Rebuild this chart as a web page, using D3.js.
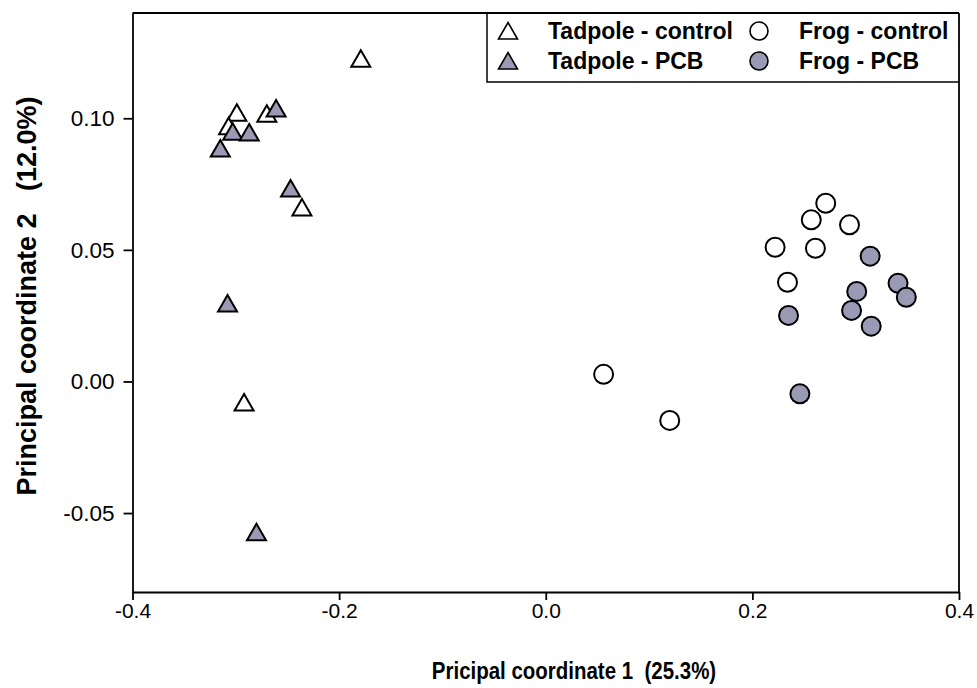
<!DOCTYPE html>
<html>
<head>
<meta charset="utf-8">
<script src="https://cdn.jsdelivr.net/npm/d3@7"></script>
<style>
  body { margin: 0; background: #fff; }
  text { font-family: "Liberation Sans", Arial, sans-serif; fill: #000; white-space: pre; }
</style>
</head>
<body>
<div id="chart"></div>
<script>
// data: PCoA scores
var tadpoleControlX = [-0.179, -0.299, -0.307, -0.270, -0.236, -0.292];
var tadpoleControlY = [0.1226, 0.1021, 0.0970, 0.1017, 0.0661, -0.0080];

var tadpolePcbX = [-0.261, -0.303, -0.287, -0.315, -0.247, -0.308, -0.280];
var tadpolePcbY = [0.1037, 0.0949, 0.0946, 0.0885, 0.0733, 0.0296, -0.0573];

var frogControlX = [0.271, 0.257, 0.294, 0.222, 0.261, 0.234, 0.056, 0.120];
var frogControlY = [0.0677, 0.0614, 0.0595, 0.0510, 0.0506, 0.0377, 0.0027, -0.0148];

var frogPcbX = [0.314, 0.341, 0.349, 0.301, 0.296, 0.315, 0.235, 0.246];
var frogPcbY = [0.0476, 0.0373, 0.0320, 0.0342, 0.0270, 0.0210, 0.0251, -0.0047];

var xTicks = [-0.4, -0.2, 0.0, 0.2, 0.4];
var yTicks = [-0.05, 0.00, 0.05, 0.10];

var legendLabels = ["Tadpole - control", "Tadpole - PCB", "Frog - control", "Frog - PCB"];

// set the dimensions and margins of the graph
var W = 977, H = 688;
var margin = {top: 13, right: 18, bottom: 96, left: 132.5},
    width = W - margin.left - margin.right,
    height = H - margin.top - margin.bottom;

var fillPCB = "#9a9ab5";

var svg = d3.select("#chart")
  .append("svg")
    .attr("width", W)
    .attr("height", H)
  .append("g")
    .attr("transform", "translate(" + margin.left + "," + margin.top + ")");

var x = d3.scaleLinear().domain([-0.4, 0.4]).range([0, width]);
var y = d3.scaleLinear().domain([-0.08, 0.14]).range([height, 0]);

function fmt(f) {
  var g = d3.format(f);
  return function(d) { return g(d).replace("\u2212", "-"); };
}

// X axis
var gx = svg.append("g")
  .attr("transform", "translate(0," + height + ")")
  .call(d3.axisBottom(x).tickValues(xTicks).tickFormat(fmt(".1f")).tickSize(8).tickSizeOuter(0).tickPadding(3));
gx.selectAll("text").style("font-size", "21px");

// Y axis
var gy = svg.append("g")
  .call(d3.axisLeft(y).tickValues(yTicks).tickFormat(fmt(".2f")).tickSize(9).tickSizeOuter(0).tickPadding(9));
gy.selectAll("text").style("font-size", "22.5px");

svg.selectAll(".domain, .tick line").attr("stroke", "#000").attr("stroke-width", 1.8);

// frame top and right
svg.append("line").attr("x1", 0).attr("x2", width).attr("y1", 0).attr("y2", 0)
  .attr("stroke", "#000").attr("stroke-width", 1.8);
svg.append("line").attr("x1", width).attr("x2", width).attr("y1", 0).attr("y2", height)
  .attr("stroke", "#000").attr("stroke-width", 1.8);

// axis titles
svg.append("text")
  .attr("transform", "translate(" + (574 - margin.left) + "," + (height + 87) + ")scale(0.89,1)")
  .attr("text-anchor", "middle")
  .style("font-size", "23px")
  .style("font-weight", "bold")
  .text("Pricipal coordinate 1  (25.3%)");

svg.append("text")
  .attr("transform", "translate(" + (35.5 - margin.left) + "," + (296 - margin.top) + ")rotate(-90)")
  .attr("text-anchor", "middle")
  .style("font-size", "27px")
  .style("font-weight", "bold")
  .text("Principal coordinate 2   (12.0%)");

// symbols
var tri = "M0,-8.5L9.5,8L-9.5,8Z";

function zip(xs, ys) { return xs.map(function(v, i) { return [v, ys[i]]; }); }

function triangles(data, fill) {
  svg.selectAll(null)
    .data(data)
    .enter()
    .append("path")
      .attr("d", tri)
      .attr("transform", function(d) { return "translate(" + x(d[0]) + "," + y(d[1]) + ")"; })
      .attr("fill", fill)
      .attr("stroke", "#000")
      .attr("stroke-width", 2);
}

function circles(data, fill) {
  svg.selectAll(null)
    .data(data)
    .enter()
    .append("circle")
      .attr("cx", function(d) { return x(d[0]); })
      .attr("cy", function(d) { return y(d[1]); })
      .attr("r", 9.5)
      .attr("fill", fill)
      .attr("stroke", "#000")
      .attr("stroke-width", 2);
}

triangles(zip(tadpoleControlX, tadpoleControlY), "#fff");
triangles(zip(tadpolePcbX, tadpolePcbY), fillPCB);
circles(zip(frogControlX, frogControlY), "#fff");
circles(zip(frogPcbX, frogPcbY), fillPCB);

// legend box (top-right corner)
var lg = svg.append("g").attr("transform", "translate(" + (487 - margin.left) + ",0)");
var lw = width - (487 - margin.left), lh = 69;
lg.append("path")
  .attr("d", "M0,0V" + lh + "H" + lw)
  .attr("fill", "none")
  .attr("stroke", "#000")
  .attr("stroke-width", 1.5);

var legendItems = [
  {label: legendLabels[0], shape: "tri", fill: "#fff", sx: 21, tx: 61, cy: 18},
  {label: legendLabels[1], shape: "tri", fill: fillPCB, sx: 21, tx: 61, cy: 48},
  {label: legendLabels[2], shape: "circle", fill: "#fff", sx: 272, tx: 312, cy: 18},
  {label: legendLabels[3], shape: "circle", fill: fillPCB, sx: 272, tx: 312, cy: 48}
];

legendItems.forEach(function(d) {
  if (d.shape === "tri") {
    lg.append("path").attr("d", tri)
      .attr("transform", "translate(" + d.sx + "," + d.cy + ")")
      .attr("fill", d.fill).attr("stroke", "#000").attr("stroke-width", 1.6);
  } else {
    lg.append("circle").attr("cx", d.sx).attr("cy", d.cy).attr("r", 9)
      .attr("fill", d.fill).attr("stroke", "#000").attr("stroke-width", 1.6);
  }
  lg.append("text")
    .attr("x", d.tx)
    .attr("y", d.cy + 8)
    .style("font-size", "23px")
    .style("font-weight", "bold")
    .text(d.label);
});
</script>
</body>
</html>
